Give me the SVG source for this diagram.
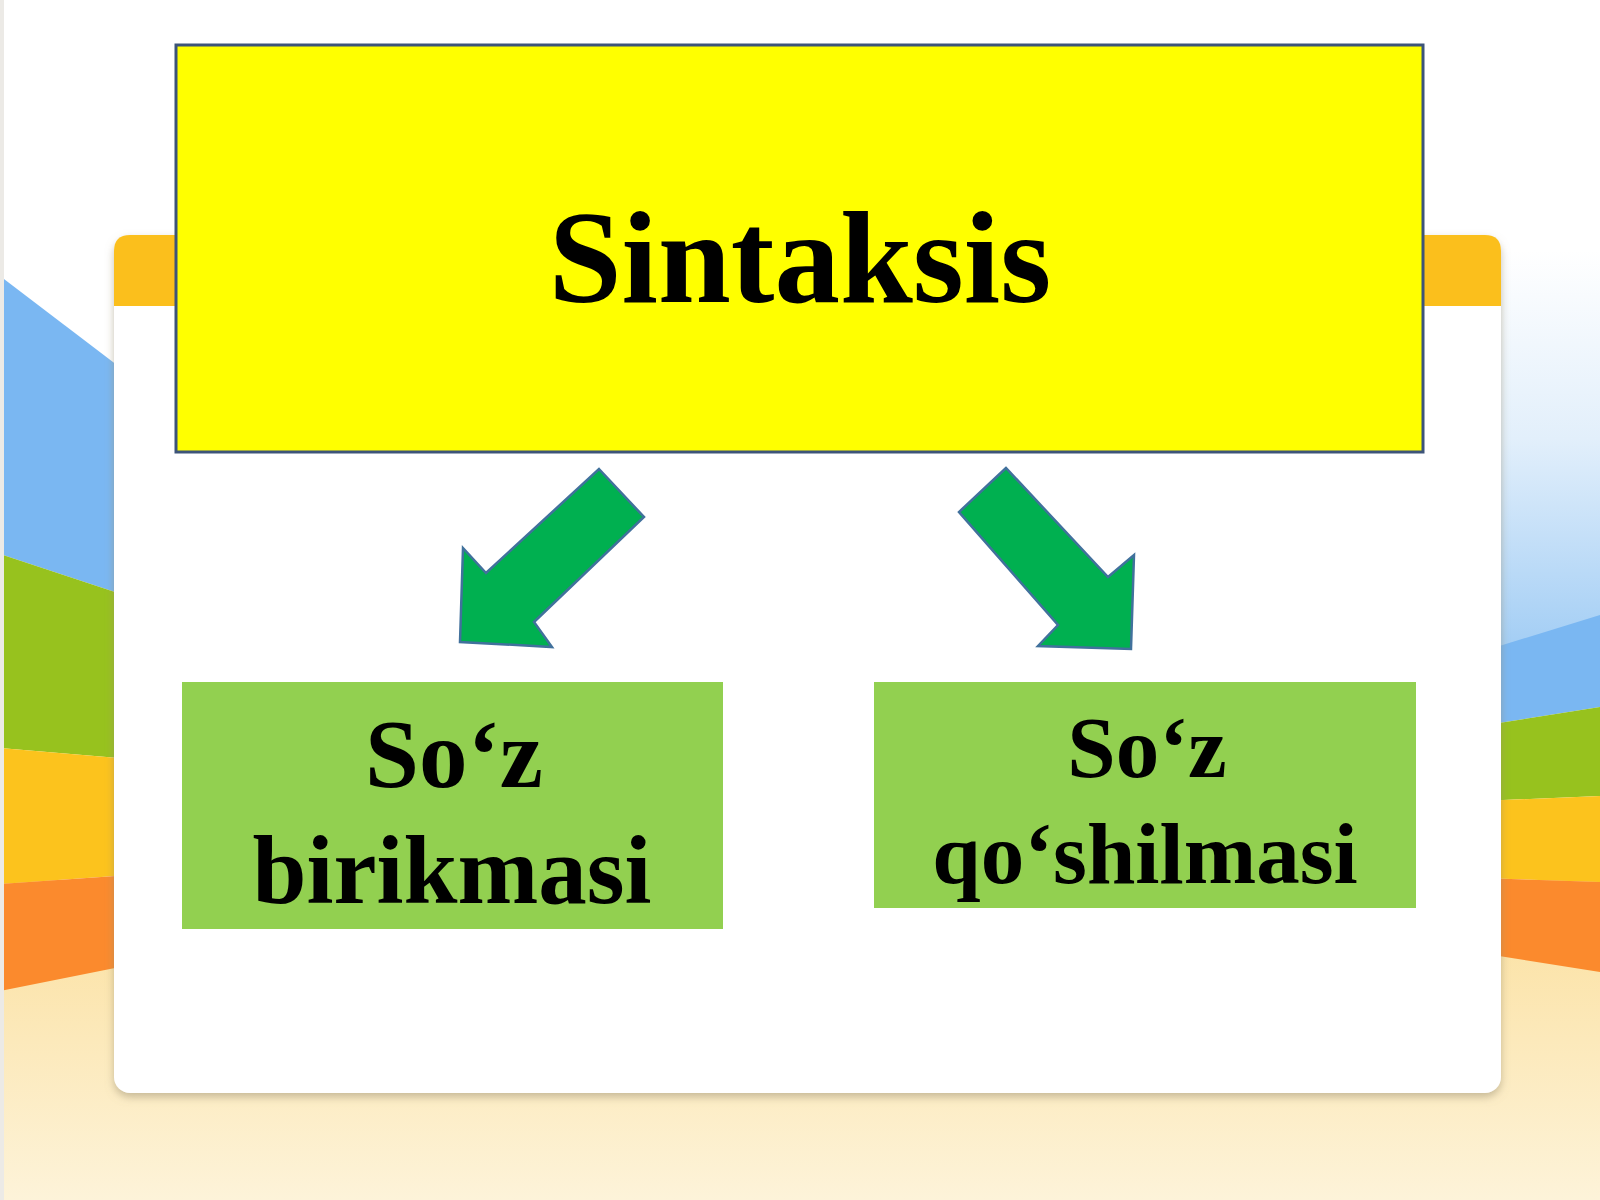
<svg xmlns="http://www.w3.org/2000/svg" width="1600" height="1200" viewBox="0 0 1600 1200">
  <defs>
    <linearGradient id="cream" x1="0" y1="0" x2="0" y2="1">
      <stop offset="0" stop-color="#fbdf9c"/>
      <stop offset="1" stop-color="#fdf3d9"/>
    </linearGradient>
    <linearGradient id="sky" x1="0" y1="0" x2="0" y2="1">
      <stop offset="0" stop-color="#ffffff"/>
      <stop offset="0.45" stop-color="#e2effb"/>
      <stop offset="1" stop-color="#9ccaf4"/>
    </linearGradient>
    <filter id="shadow" x="-5%" y="-5%" width="110%" height="110%">
      <feDropShadow dx="0" dy="4" stdDeviation="4" flood-color="#9a8f70" flood-opacity="0.55"/>
    </filter>
    <style>
      .label { font-family: "Liberation Serif", "Times New Roman", serif; font-weight: bold; fill: #000; text-anchor: middle; }
      .green { fill: #92d050; }
      .arrow { fill: #00b050; stroke: #41719c; stroke-width: 2.5; stroke-linejoin: miter; }
    </style>
  </defs>

  <!-- background -->
  <g id="background">
    <rect x="0" y="0" width="1600" height="1200" fill="#ffffff"/>
    <rect x="0" y="880" width="1600" height="320" fill="url(#cream)"/>
    <rect x="1480" y="250" width="120" height="420" fill="url(#sky)"/>
    <!-- left stripes -->
    <polygon points="0,276 130,375 130,597 0,554" fill="#7ab7f2"/>
    <polygon points="0,554 130,597 130,759 0,748" fill="#97c21e"/>
    <polygon points="0,748 130,759 130,875 0,884" fill="#fcc31d"/>
    <polygon points="0,884 130,875 130,965 0,991" fill="#fb8a2d"/>
    <!-- right stripes -->
    <polygon points="1480,652 1600,615 1600,707 1480,726" fill="#7ab7f2"/>
    <polygon points="1480,726 1600,707 1600,796 1480,801" fill="#97c21e"/>
    <polygon points="1480,801 1600,796 1600,882 1480,878" fill="#fcc31d"/>
    <polygon points="1480,878 1600,882 1600,972 1480,953" fill="#fb8a2d"/>
    <rect x="0" y="0" width="4" height="1200" fill="#eceae6"/>
  </g>

  <!-- card -->
  <g id="card">
    <rect x="114" y="235" width="1387" height="858" rx="16" fill="#ffffff" filter="url(#shadow)"/>
    <path d="M114,306 L114,251 Q114,235 130,235 L1485,235 Q1501,235 1501,251 L1501,306 Z" fill="#fbbf1c"/>
  </g>

  <!-- connectors -->
  <g id="connectors">
    <polygon class="arrow" points="599,469 644,517 534,622 552,647 460,642 463,548 486,573"/>
    <polygon class="arrow" points="1006,468 959,512 1058,625 1038,646 1131,649 1134,555 1108,577"/>
  </g>

  <!-- nodes -->
  <g id="node-sintaksis">
    <rect x="176" y="45" width="1247" height="407" fill="#ffff00" stroke="#3d5479" stroke-width="3"/>
    <text class="label" x="800" y="302" font-size="131">Sintaksis</text>
  </g>

  <g id="node-soz-birikmasi">
    <rect class="green" x="182" y="682" width="541" height="247"/>
    <text class="label" x="454" y="787" font-size="97">So‘z</text>
    <text class="label" x="452" y="903" font-size="97">birikmasi</text>
  </g>

  <g id="node-soz-qoshilmasi">
    <rect class="green" x="874" y="682" width="542" height="226"/>
    <text class="label" x="1147" y="777" font-size="87">So‘z</text>
    <text class="label" x="1145" y="883" font-size="87">qo‘shilmasi</text>
  </g>
</svg>
